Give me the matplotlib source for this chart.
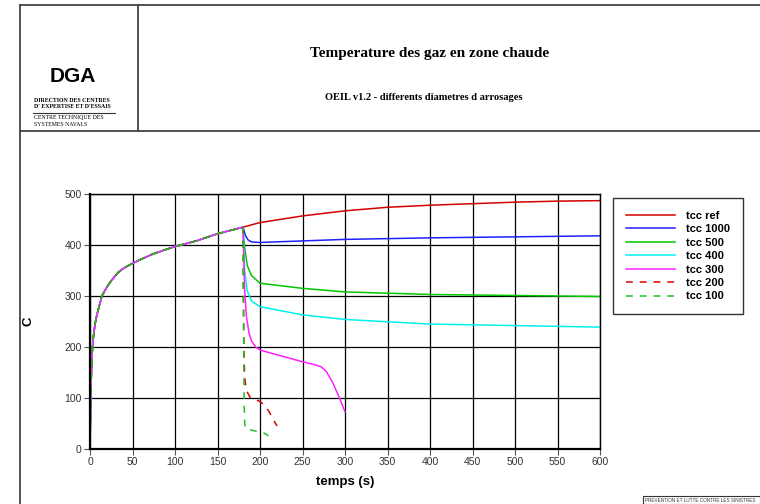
import matplotlib
matplotlib.use("Agg")
import matplotlib.pyplot as plt
from matplotlib.lines import Line2D
from matplotlib.patches import Rectangle

# --- data -------------------------------------------------------------
# common heating phase (all cases identical until sprinklers start at 180 s)
t_warm = [0, 0.5, 1, 2, 3, 4, 6, 8, 10, 14, 20, 25, 33, 40, 50, 60, 75,
          100, 125, 150, 180]
T_warm = [0, 60, 110, 170, 200, 220, 246, 262, 275, 300, 318, 330, 346,
          355, 364, 372, 383, 397, 408, 422, 435]

t_ref = [200, 250, 300, 350, 400, 450, 500, 550, 600]
T_ref = [444, 457, 467, 474, 478, 481, 484, 486, 487]

t_1000 = [183, 186, 190, 200, 250, 300, 400, 500, 600]
T_1000 = [418, 410, 406, 405, 408, 411, 414, 416, 418]

t_500 = [181, 182, 185, 190, 200, 250, 300, 400, 500, 600]
T_500 = [410, 395, 360, 340, 325, 315, 308, 303, 301, 299]

t_400 = [181, 182, 185, 190, 200, 250, 300, 400, 500, 600]
T_400 = [390, 350, 310, 290, 279, 263, 254, 245, 242, 239]

t_300 = [181, 182, 184, 187, 190, 195, 200, 250, 265, 272, 278, 285, 292, 300]
T_300 = [370, 310, 260, 228, 212, 200, 194, 171, 165, 161, 152, 132, 106, 73]

t_200 = [180.5, 181, 182, 184, 188, 195, 200, 205, 210, 215, 220]
T_200 = [300, 200, 140, 115, 102, 97, 93, 86, 75, 60, 45]

t_100 = [180.5, 181, 181.5, 182, 183, 190, 200, 205, 210]
T_100 = [300, 150, 80, 50, 40, 37, 33, 31, 26]

labels = ["tcc ref", "tcc 1000", "tcc 500", "tcc 400", "tcc 300",
          "tcc 200", "tcc 100"]
colors = ["#d40000", "#2020ff", "#00c800", "#00f0f0", "#ff20ff",
          "#e00000", "#20c020"]
styles = ["-", "-", "-", "-", "-", "--", "--"]

x_ticks = list(range(0, 601, 50))
y_ticks = list(range(0, 501, 100))

# --- figure -----------------------------------------------------------
W, H = 760, 504
fig = plt.figure(figsize=(W / 100, H / 100), dpi=100)
fig.patch.set_facecolor("white")


def fx(px):
    return px / W


def fy(py):
    return 1 - py / H


# page frame and header block
frame_kw = dict(color="#444444", lw=1.3, transform=fig.transFigure)
fig.add_artist(Line2D([fx(20), 1], [fy(5), fy(5)], **frame_kw))
fig.add_artist(Line2D([fx(20), 1], [fy(131), fy(131)], **frame_kw))
fig.add_artist(Line2D([fx(20), fx(20)], [fy(5), 0], **frame_kw))
fig.add_artist(Line2D([fx(138), fx(138)], [fy(5), fy(131)], **frame_kw))

fig.text(fx(73), fy(77), "DGA", family="Liberation Sans", weight="bold",
         fontsize=15, ha="center", va="center")
fig.text(fx(34), fy(100), "DIRECTION DES CENTRES", family="Liberation Serif",
         weight="bold", fontsize=4.2, ha="left", va="center")
fig.text(fx(34), fy(106), "D' EXPERTISE ET D'ESSAIS", family="Liberation Serif",
         weight="bold", fontsize=4.2, ha="left", va="center")
fig.add_artist(Line2D([fx(33), fx(115)], [fy(113), fy(113)], color="#333333",
                      lw=0.8, transform=fig.transFigure))
fig.text(fx(34), fy(118), "CENTRE TECHNIQUE DES", family="Liberation Serif",
         fontsize=4.2, ha="left", va="center")
fig.text(fx(34), fy(124), "SYSTEMES NAVALS", family="Liberation Serif",
         fontsize=4.2, ha="left", va="center")

fig.text(fx(430), fy(53), "Temperature des gaz en zone chaude",
         family="Liberation Serif", weight="bold", fontsize=11,
         ha="center", va="center")
fig.text(fx(424), fy(97), "OEIL v1.2 - differents diametres d arrosages",
         family="Liberation Serif", weight="bold", fontsize=7.5,
         ha="center", va="center")

# footer tag box
fig.add_artist(Rectangle((fx(643), 0), 1 - fx(643), fy(496), fill=False,
                         ec="#333333", lw=0.8, transform=fig.transFigure))
fig.text(fx(645), fy(500), "PREVENTION ET LUTTE CONTRE LES SINISTRES",
         family="Liberation Sans", fontsize=3.3, ha="left", va="center",
         color="#333333")

# --- axes -------------------------------------------------------------
ax = fig.add_axes([fx(90), fy(449), fx(600) - fx(90), fy(194) - fy(449)])
ax.set_xlim(0, 600)
ax.set_ylim(0, 500)
ax.set_xticks(x_ticks)
ax.set_yticks(y_ticks)
ax.grid(True, color="black", lw=0.9)
ax.set_axisbelow(True)
for sp in ax.spines.values():
    sp.set_color("black")
    sp.set_linewidth(1.0)
ax.spines["bottom"].set_linewidth(1.6)
ax.spines["left"].set_linewidth(1.6)
ax.tick_params(direction="out", length=4, width=0.8, color="#555555",
               labelsize=7.5, labelcolor="#333333", pad=2)
for lab in ax.get_xticklabels() + ax.get_yticklabels():
    lab.set_family("Liberation Sans")

series_t = [t_ref, t_1000, t_500, t_400, t_300, t_200, t_100]
series_T = [T_ref, T_1000, T_500, T_400, T_300, T_200, T_100]
handles = []
for t, T, lab, c, ls in zip(series_t, series_T, labels, colors, styles):
    (h,) = ax.plot(t_warm + t, T_warm + T, color=c, ls=ls, lw=1.1,
                   label=lab, dashes=(4.5, 4.5) if ls == "--" else (None, None))
    handles.append(h)

ax.set_xlabel("temps (s)", family="Liberation Sans", weight="bold",
              fontsize=9.5, labelpad=6)
ax.set_ylabel("C", family="Liberation Sans", weight="bold", fontsize=9.5)
ax.yaxis.set_label_coords((35 - 90) / 510, 0.5)

leg = fig.legend(handles=handles, labels=labels, loc="upper left",
                 bbox_to_anchor=(fx(613), fy(196)), frameon=True,
                 fancybox=False, shadow=False, handlelength=4.4,
                 handletextpad=1.0, borderpad=1.15, borderaxespad=0,
                 labelspacing=0.31,
                 prop=dict(family="Liberation Sans", weight="bold", size=8))
leg.get_frame().set_edgecolor("black")
leg.get_frame().set_linewidth(1.0)
leg._legend_box.align = "left"
leg.set_bbox_to_anchor((fx(613), fy(198)), transform=fig.transFigure)

fig.savefig("out.png", dpi=100, facecolor="white")
